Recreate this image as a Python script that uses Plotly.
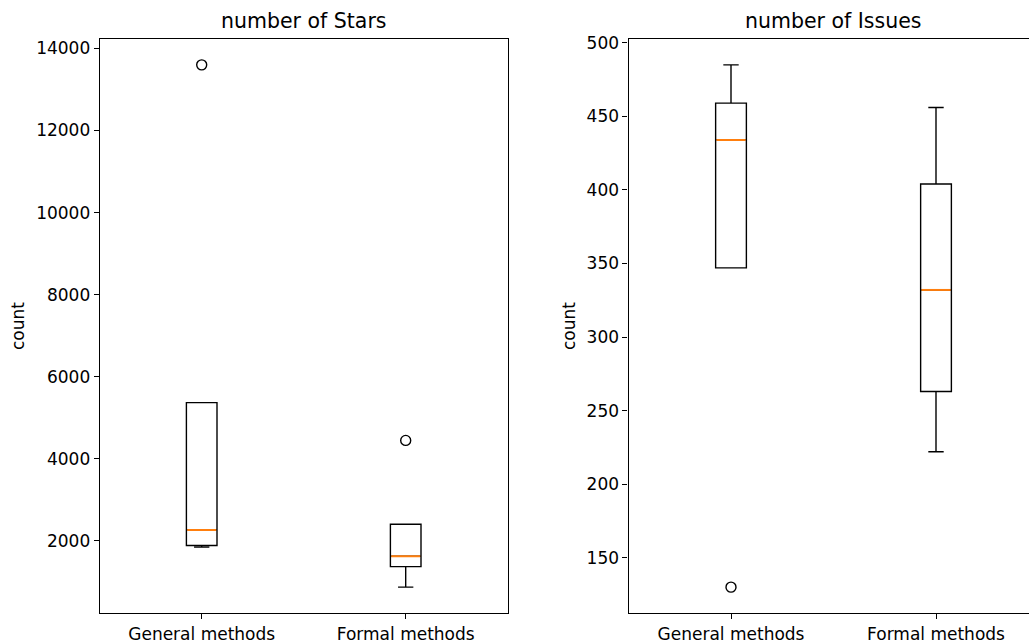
import numpy as np
import plotly.graph_objects as go

categories = ["General methods", "Formal methods"]
stars_general = [1850, 1890, 2270, 5370, 13600]
stars_formal = [875, 1375, 1630, 2406, 4450]
issues_general = [130, 347, 434, 459, 485]
issues_formal = [222, 263, 332, 404, 456]

stars_ticks = [2000, 4000, 6000, 8000, 10000, 12000, 14000]
issues_ticks = [150, 200, 250, 300, 350, 400, 450, 500]

W, H = 1029, 644
BOXW = 0.15
LW = 1.4
FONT = "DejaVu Sans"
TICKSIZE = 17


def py(t):
    # map a target pixel row to the layout pixel row (capture correction)
    return (t - 5.2) / 0.9916


def stats(data):
    d = np.asarray(data, dtype=float)
    q1, med, q3 = np.percentile(d, [25, 50, 75])
    iqr = q3 - q1
    lo_lim, hi_lim = q1 - 1.5 * iqr, q3 + 1.5 * iqr
    lo = d[d >= lo_lim].min()
    hi = d[d <= hi_lim].max()
    out = d[(d < lo) | (d > hi)]
    return q1, med, q3, lo, hi, out


fig = go.Figure()


def add_group(groups, xa, ya):
    for pos, data in enumerate(groups, start=1):
        q1, med, q3, lo, hi, out = stats(data)
        fig.add_trace(go.Box(
            x=[pos], q1=[q1], median=[med], q3=[q3], lowerfence=[lo], upperfence=[hi],
            width=BOXW, whiskerwidth=0.5, boxpoints=False,
            fillcolor="rgba(0,0,0,0)", line=dict(color="black", width=LW),
            xaxis=xa, yaxis=ya, showlegend=False, hoverinfo="skip"))
        fig.add_trace(go.Scatter(
            x=[pos - BOXW / 2 + 0.004, pos + BOXW / 2 - 0.004], y=[med, med], mode="lines",
            line=dict(color="#ff7f0e", width=2.0), xaxis=xa, yaxis=ya,
            showlegend=False, hoverinfo="skip"))
        if len(out):
            fig.add_trace(go.Scatter(
                x=[pos] * len(out), y=list(out), mode="markers",
                marker=dict(symbol="circle-open", size=10, color="black",
                            line=dict(width=LW, color="black")),
                xaxis=xa, yaxis=ya, showlegend=False, hoverinfo="skip"))


add_group([stars_general, stars_formal], "x", "y")
add_group([issues_general, issues_formal], "x2", "y2")

ytop, ybot = py(38), py(613)
ydom = [(H - ybot) / H, (H - ytop) / H]
x1dom = [99.7 / W, 507.7 / W]
x2left = 628.5
x2dom = [x2left / W, 1.0]
x2max = 0.5 + (W - x2left) / 205.0

axis_common = dict(showline=True, linecolor="black", linewidth=1.1, ticks="outside",
                   ticklen=5, tickwidth=1.1, tickcolor="black", showgrid=False,
                   zeroline=False, tickfont=dict(family=FONT, size=TICKSIZE, color="black"))

fig.update_layout(
    width=W, height=H, margin=dict(l=0, r=0, t=0, b=0),
    paper_bgcolor="white", plot_bgcolor="white",
    xaxis=dict(domain=x1dom, range=[0.5, 2.5], tickvals=[1, 2], ticktext=categories,
               mirror=True, anchor="y", **axis_common),
    yaxis=dict(domain=ydom, range=[239, 14236], tickvals=stars_ticks,
               ticktext=[str(t) for t in stars_ticks], mirror=True,
               anchor="x", **axis_common),
    xaxis2=dict(domain=x2dom, range=[0.5, x2max], tickvals=[1, 2], ticktext=categories,
                mirror=True, anchor="y2", **axis_common),
    yaxis2=dict(domain=ydom, range=[112.25, 502.75], tickvals=issues_ticks,
                ticktext=[str(t) for t in issues_ticks], mirror=False,
                anchor="x2", **axis_common),
)

ann = [
    dict(text="number of Stars", x=(99.7 + 507.7) / 2 / W, y=1 - py(20) / H),
    dict(text="number of Issues", x=(628.5 + 1038.5) / 2 / W, y=1 - py(20) / H),
]
for a in ann:
    fig.add_annotation(text=a["text"], x=a["x"], y=a["y"], xref="paper", yref="paper",
                       showarrow=False, xanchor="center", yanchor="middle",
                       font=dict(family=FONT, size=20.5, color="black"))
for xc in [18, 569]:
    fig.add_annotation(text="count", x=xc / W, y=(1 - py((38 + 613) / 2) / H), xref="paper",
                       yref="paper", showarrow=False, textangle=-90, xanchor="center",
                       yanchor="middle", font=dict(family=FONT, size=TICKSIZE, color="black"))

fig.write_html("out.html", config={"displayModeBar": False},
               post_script="document.body.style.margin='0px';document.body.style.overflow='hidden';")
